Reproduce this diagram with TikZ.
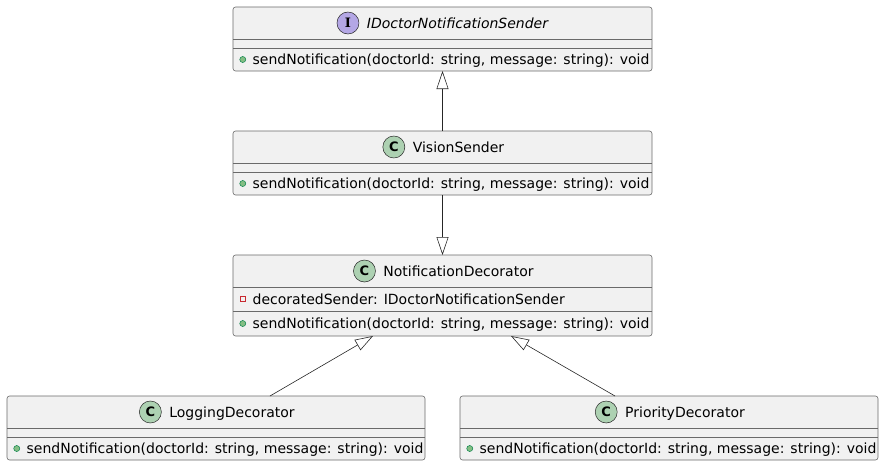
\documentclass[tikz,border=0pt]{standalone}
\usepackage{fontspec}
\setmainfont{DejaVu Sans}
\newfontfamily\iconserif{DejaVu Serif}
\usetikzlibrary{arrows.meta,calc}
\definecolor{umlfill}{HTML}{F1F1F1}
\definecolor{umlline}{HTML}{6A6A6A}
\definecolor{classgreen}{HTML}{ADD1B2}
\definecolor{ifacepurple}{HTML}{B4A7E5}
\definecolor{pubgreen}{HTML}{84BE84}
\definecolor{pubdark}{HTML}{038048}
\definecolor{privred}{HTML}{C82930}
\newcommand\umlfont{\fontsize{14}{16}\selectfont}

\begin{document}
\begin{tikzpicture}[x=1pt,y=-1pt,
	classbox/.style={draw=umlline,fill=umlfill,rounded corners=2.5pt,line width=0.6pt,anchor=north west,minimum width=419pt,minimum height=64pt,inner sep=0pt,outer sep=0pt},
	sep/.style={draw=umlline,line width=0.6pt},
	classname/.style={anchor=base,inner sep=0pt,text height=11pt,text depth=1pt,font=\umlfont},
	classicon/.style={circle,draw=black!85,line width=0.5pt,minimum size=22pt,inner sep=0pt,xshift=-7.5pt,font=\fontsize{13}{13}\selectfont\bfseries},
	member/.style={anchor=base west,inner sep=0pt,text height=11pt,text depth=1pt,font=\umlfont},
	pubdot/.style={circle,fill=pubgreen,draw=pubdark,line width=0.5pt,minimum size=6pt,inner sep=0pt,xshift=-6.5pt},
	privsq/.style={rectangle,draw=privred,line width=0.8pt,minimum size=5.5pt,inner sep=0pt,xshift=-6.5pt},
	extends/.style={draw=black!85,line width=0.6pt,-{Triangle[open,length=18pt,width=12pt]}}]
	\useasboundingbox (0,0) rectangle (884,466);

	\node[classbox] (sender) at (233,7) {};
	\node[classbox] (vision) at (233,131) {};
	\node[classbox,minimum height=81pt] (decorator) at (233,255) {};
	\node[classbox,minimum width=418pt] (logging) at (7,396) {};
	\node[classbox,minimum width=418pt] (priority) at (460,396) {};

	\foreach \b in {sender,vision,logging,priority}{
		\draw[sep] ($(\b.north west)+(0,32)$) -- ($(\b.north east)+(0,32)$);
		\draw[sep] ($(\b.north west)+(0,41.5)$) -- ($(\b.north east)+(0,41.5)$);
		\node[member,label={[pubdot]left:{}}] (\b M) at ($(\b.north west)+(19.5,57.5)$) {sendNotification(doctorId: string, message: string): void};
	}
	\draw[sep] ($(decorator.north west)+(0,32)$) -- ($(decorator.north east)+(0,32)$);
	\draw[sep] ($(decorator.north west)+(0,56)$) -- ($(decorator.north east)+(0,56)$);

	\node[classname,font=\umlfont\itshape,label={[classicon,fill=ifacepurple]left:{\iconserif\bfseries I}}] (senderN) at ($(sender.north)+(15,21)$) {IDoctorNotificationSender};
	\node[classname,label={[classicon,fill=classgreen]left:C}] (visionN) at ($(vision.north)+(16,21)$) {VisionSender};
	\node[classname,label={[classicon,fill=classgreen]left:C}] (decoratorN) at ($(decorator.north)+(16,21)$) {NotificationDecorator};
	\node[classname,label={[classicon,fill=classgreen]left:C}] (loggingN) at ($(logging.north)+(16,21)$) {LoggingDecorator};
	\node[classname,label={[classicon,fill=classgreen]left:C}] (priorityN) at ($(priority.north)+(16,21)$) {PriorityDecorator};

	\node[member,label={[privsq]left:{}}] (decoratorA) at ($(decorator.north west)+(19.5,49)$) {decoratedSender: IDoctorNotificationSender};
	\node[member,label={[pubdot]left:{}}] (decoratorM) at ($(decorator.north west)+(19.5,73.5)$) {sendNotification(doctorId: string, message: string): void};

	\draw[extends] (vision) -- (sender);
	\draw[extends] (vision) -- (decorator);
	\draw[extends] ([xshift=54pt]logging.north) -- ([xshift=-69.5pt]decorator.south);
	\draw[extends] ([xshift=-54pt]priority.north) -- ([xshift=68.5pt]decorator.south);
\end{tikzpicture}
\end{document}
